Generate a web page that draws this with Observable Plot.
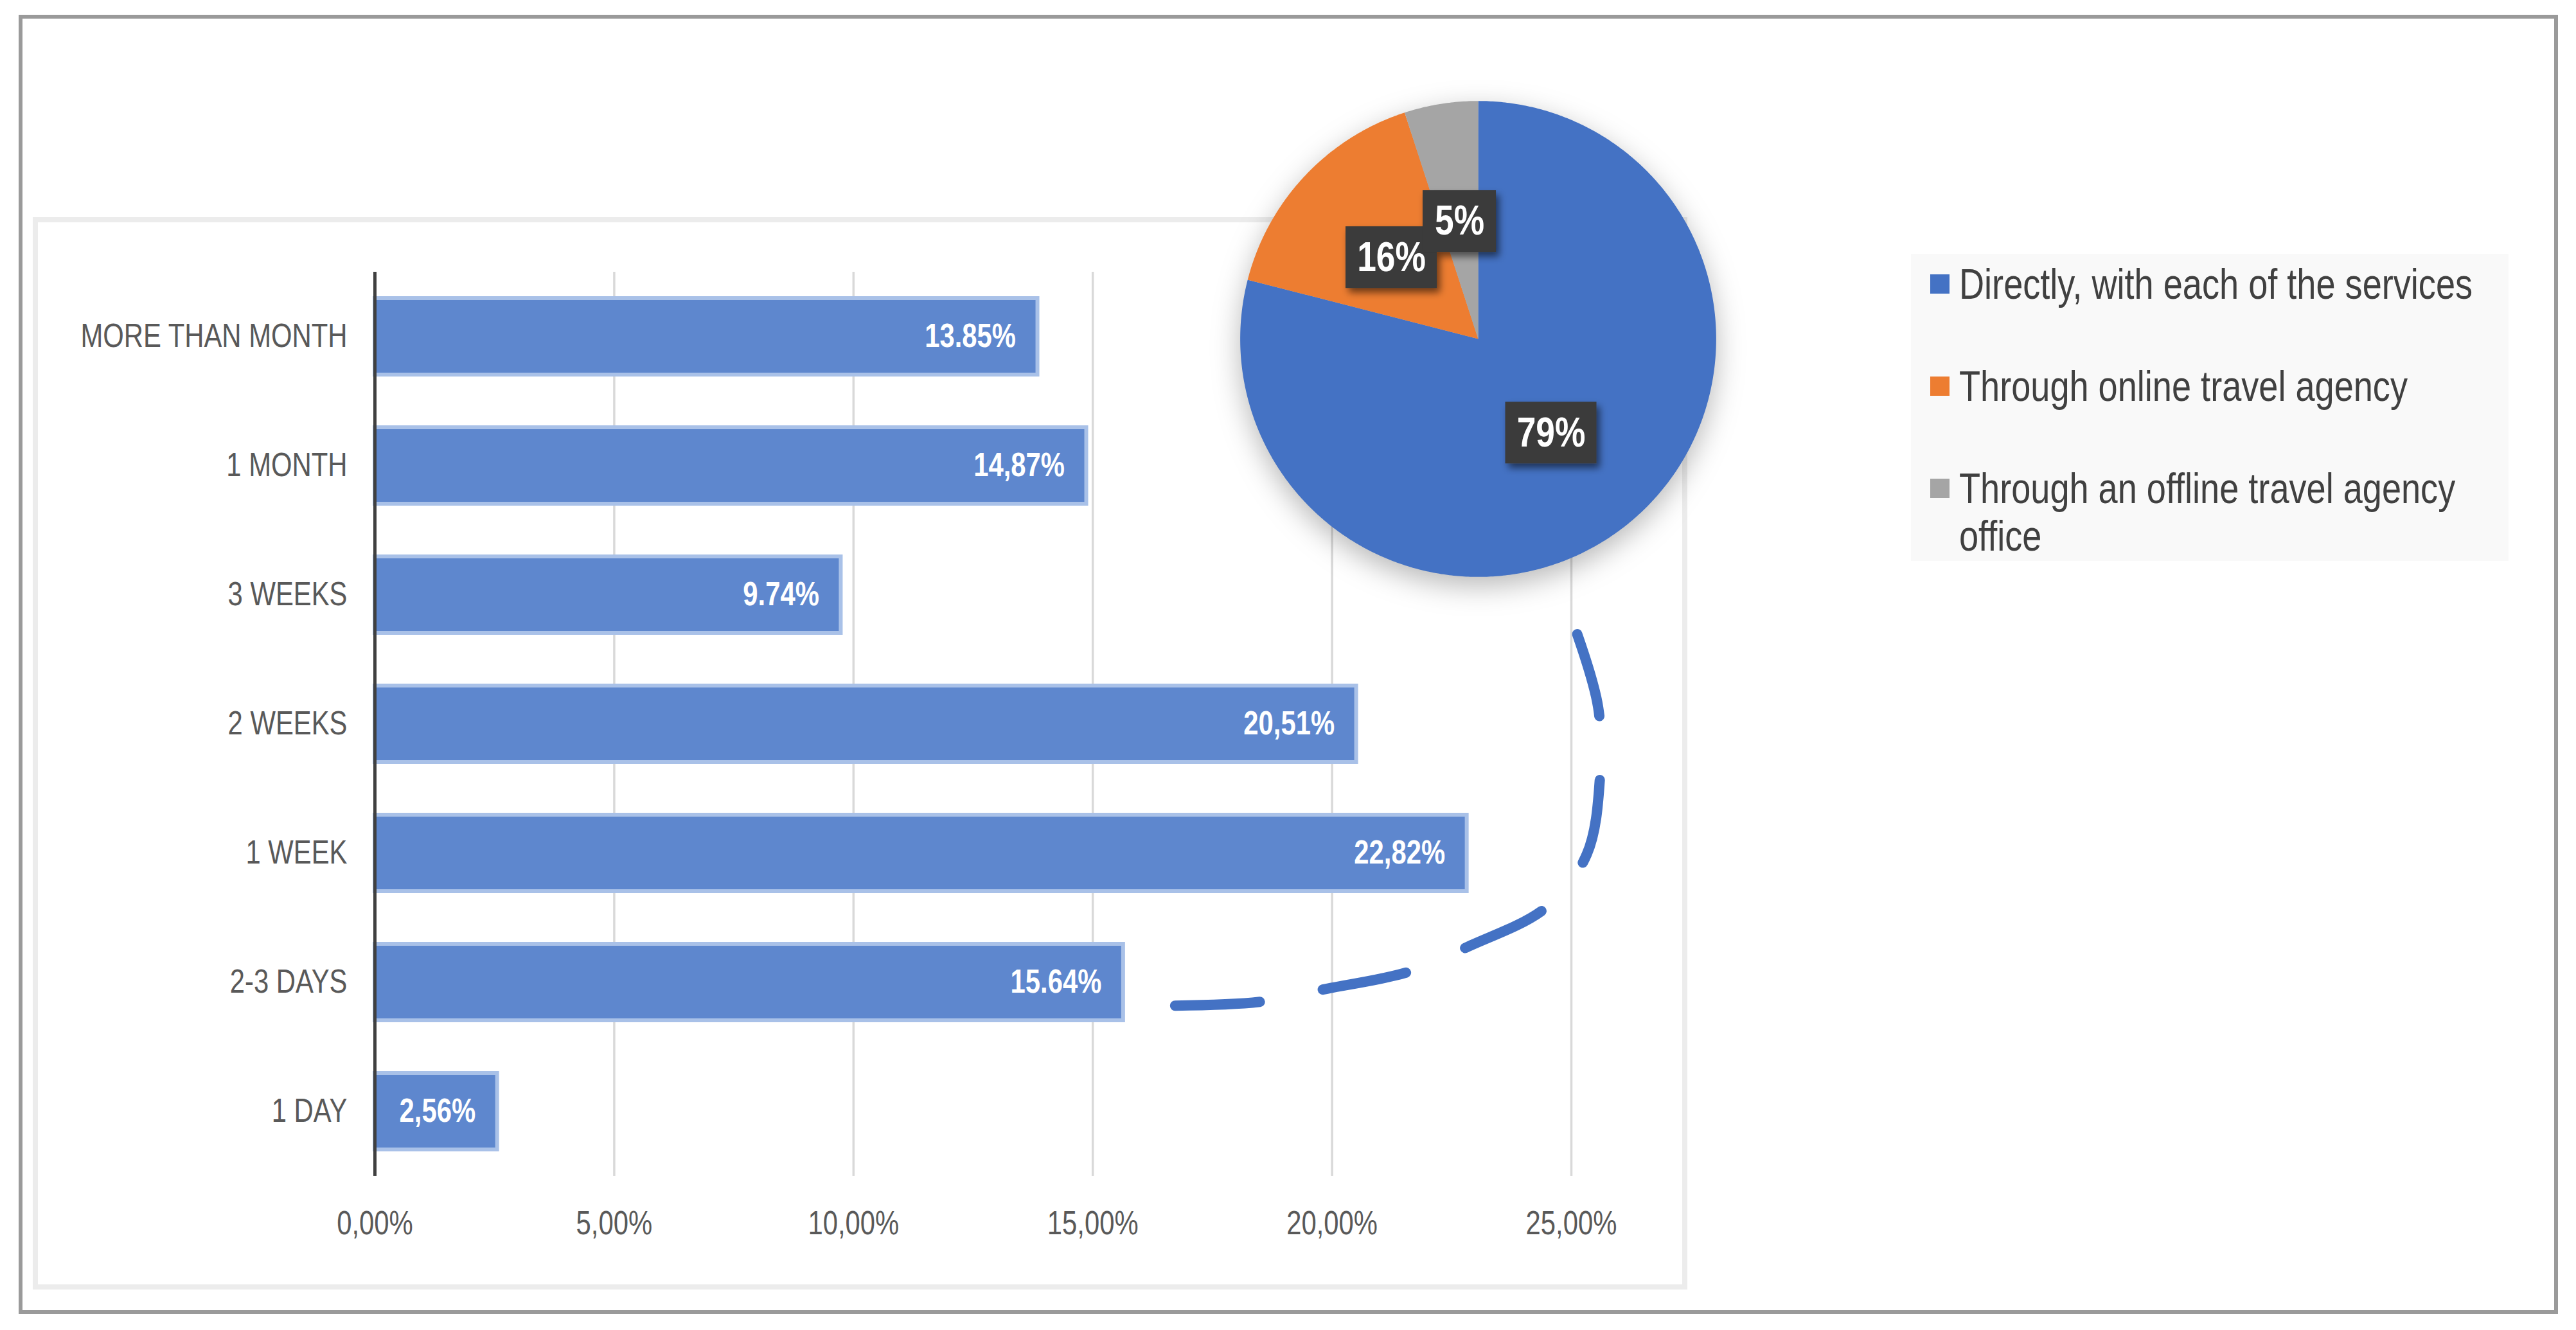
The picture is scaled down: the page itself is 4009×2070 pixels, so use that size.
<!DOCTYPE html>
<html>
<head>
<meta charset="utf-8">
<script src="https://cdn.jsdelivr.net/npm/d3@7"></script>
<script src="https://cdn.jsdelivr.net/npm/@observablehq/plot@0.6"></script>
<style>
html, body { margin: 0; padding: 0; background: #fff; width: 4009px; height: 2070px; overflow: hidden; }
body { position: relative; font-family: "Liberation Sans", Arial, sans-serif; }
#frame { position: absolute; left: 29px; top: 23px; width: 3940px; height: 2010px; border: 6px solid #9a9a9a; }
#panel { position: absolute; left: 51px; top: 338px; width: 2559px; height: 1653px; border: 8px solid #ececec; background: #fff; }
.layer { position: absolute; }
#bars { left: 51px; top: 340px; }
#connector { left: 51px; top: 340px; }
#pie { left: 1800px; top: 27px; filter: drop-shadow(0px 14px 22px rgba(0,0,0,0.28)); }
#pie g[aria-label="rect"] { filter: url(#boxShadow); }
#legend { position: absolute; left: 2974px; top: 395px; width: 930px; height: 478px; background: #f9f9f9; box-sizing: border-box; padding-top: 10px; }
.item { position: relative; height: 74px; margin-bottom: 85px; }
.item.two { height: 148px; margin-bottom: 0; }
.sw { position: absolute; left: 30px; top: 22px; width: 30px; height: 30px; }
.lt { position: absolute; left: 75px; top: 0; width: 1030px; font-size: 66px; line-height: 74px; color: #404040; transform: scaleX(0.82); transform-origin: 0 0; }
</style>
</head>
<body>
<svg width="0" height="0" style="position:absolute">
  <defs>
    <filter id="boxShadow" x="-30%" y="-30%" width="170%" height="180%">
      <feDropShadow dx="5" dy="7" stdDeviation="6" flood-color="#000" flood-opacity="0.55"/>
    </filter>
  </defs>
</svg>
<div id="frame"></div>
<div id="panel"></div>
<div id="bars" class="layer"></div>
<div id="connector" class="layer"></div>
<div id="pie" class="layer"></div>
<div id="legend"></div>
<script>
// ---------- data ----------
const categories = ["MORE THAN MONTH", "1 MONTH", "3 WEEKS", "2 WEEKS", "1 WEEK", "2-3 DAYS", "1 DAY"];
const barValues = [13.85, 14.87, 9.74, 20.51, 22.82, 15.64, 2.56];
const barLabels = ["13.85%", "14,87%", "9.74%", "20,51%", "22,82%", "15.64%", "2,56%"];
const xTickValues = [0, 5, 10, 15, 20, 25];
const xTickLabels = ["0,00%", "5,00%", "10,00%", "15,00%", "20,00%", "25,00%"];

const pieNames = ["Directly, with each of the services", "Through online travel agency", "Through an offline travel agency office"];
const pieValues = [79, 16, 5];
const pieLabels = ["79%", "16%", "5%"];
const pieColors = ["#4472C4", "#ED7D31", "#A5A5A5"];

// dashed connector annotation (x in %, y in category index units)
const connectorX = [16.72, 18.51, 19.88, 21.58, 22.86, 24.47, 25.32, 25.60, 25.56, 25.11];
const connectorY = [5.18, 5.15, 5.05, 4.92, 4.72, 4.42, 4.01, 3.40, 2.87, 2.29];

// narrow (condensed) rendering of SVG text, emulating a narrow face
function narrow(svg, f) {
  svg.querySelectorAll("text").forEach(t => {
    const L = t.getComputedTextLength();
    if (L > 0) {
      t.setAttribute("textLength", (L * f).toFixed(1));
      t.setAttribute("lengthAdjust", "spacingAndGlyphs");
    }
  });
}
const FONT = "'Liberation Sans', Arial, sans-serif";

// ---------- bar chart ----------
const barData = categories.map((c, i) => ({cat: c, value: barValues[i], label: barLabels[i]}));
const W = 2575, H = 1665, mL = 532, mR = 181, mT = 83, mB = 175;
const barPlot = Plot.plot({
  width: W, height: H,
  marginLeft: mL, marginRight: mR, marginTop: mT, marginBottom: mB,
  style: {background: "transparent", fontFamily: FONT, fontSize: "51px", color: "#595959"},
  x: {domain: [0, 25], ticks: xTickValues, tickFormat: d => xTickLabels[xTickValues.indexOf(d)], tickSize: 0, tickPadding: 54, label: null},
  y: {domain: categories, paddingInner: 0.41, paddingOuter: 0.205, tickSize: 0, tickPadding: 43, label: null},
  marks: [
    Plot.ruleX(xTickValues, {stroke: "#d9d9d9", strokeWidth: 3.5}),
    Plot.barX(barData, {x: "value", y: "cat", fill: "#5E87CE", stroke: "#A9C1E8", strokeWidth: 6}),
    Plot.ruleX([0], {stroke: "#404040", strokeWidth: 5}),
    Plot.text(barData, {x: "value", y: "cat", text: "label", textAnchor: "end", dx: -34, fill: "white", fontWeight: "bold", fontSize: 51})
  ]
});
document.getElementById("bars").appendChild(barPlot);
narrow(barPlot, 0.82);

// ---------- connector ----------
const connData = connectorX.map((x, i) => ({x, y: connectorY[i]}));
const connPlot = Plot.plot({
  width: W, height: H,
  marginLeft: mL, marginRight: mR, marginTop: mT, marginBottom: mB,
  style: {background: "transparent"},
  x: {domain: [0, 25], axis: null},
  y: {domain: [6.5, -0.5], axis: null},
  marks: [
    Plot.line(connData, {x: "x", y: "y", stroke: "#4472C4", strokeWidth: 16, strokeDasharray: "132,100", curve: "catmull-rom"})
  ]
});
document.getElementById("connector").appendChild(connPlot);

// ---------- pie ----------
const total = d3.sum(pieValues);
let acc = 0;
const slices = pieValues.map((v, i) => {
  const a0 = acc / total * 2 * Math.PI;
  acc += v;
  const a1 = acc / total * 2 * Math.PI;
  const pts = [{x: 0, y: 0}];
  const n = Math.max(4, Math.ceil((a1 - a0) / (Math.PI / 360)));
  for (let k = 0; k <= n; k++) {
    const a = a0 + (a1 - a0) * k / n;
    pts.push({x: Math.sin(a), y: Math.cos(a)});
  }
  const am = (a0 + a1) / 2;
  return {name: pieNames[i], color: pieColors[i], pts, lx: 0.5 * Math.sin(am), ly: 0.5 * Math.cos(am), label: pieLabels[i]};
});
const PR = 1.35;
const pxPerUnit = 1000 / (2 * PR);
const boxH = 96 / pxPerUnit;
const boxes = slices.map(s => {
  const w = (s.label.length >= 3 ? 142 : 114) / pxPerUnit;
  return {x1: s.lx - w / 2, x2: s.lx + w / 2, y1: s.ly - boxH / 2, y2: s.ly + boxH / 2};
});
const piePlot = Plot.plot({
  width: 1000, height: 1000, margin: 0,
  style: {background: "transparent", fontFamily: FONT},
  x: {domain: [-PR, PR], axis: null},
  y: {domain: [-PR, PR], axis: null},
  marks: [
    ...slices.map(s => Plot.line(s.pts, {x: "x", y: "y", fill: s.color, stroke: "none", curve: "linear-closed"})),
    Plot.rect(boxes, {x1: "x1", x2: "x2", y1: "y1", y2: "y2", fill: "#3a3a3a"}),
    Plot.text(slices, {x: "lx", y: "ly", text: "label", fill: "white", fontWeight: "bold", fontSize: 65})
  ]
});
document.getElementById("pie").appendChild(piePlot);
narrow(piePlot, 0.82);

// ---------- legend ----------
const legend = document.getElementById("legend");
pieNames.forEach((n, i) => {
  const item = document.createElement("div");
  item.className = "item" + (i === 2 ? " two" : "");
  const sw = document.createElement("span");
  sw.className = "sw";
  sw.style.background = pieColors[i];
  const lt = document.createElement("span");
  lt.className = "lt";
  lt.textContent = n;
  item.appendChild(sw);
  item.appendChild(lt);
  legend.appendChild(item);
});
</script>
</body>
</html>
